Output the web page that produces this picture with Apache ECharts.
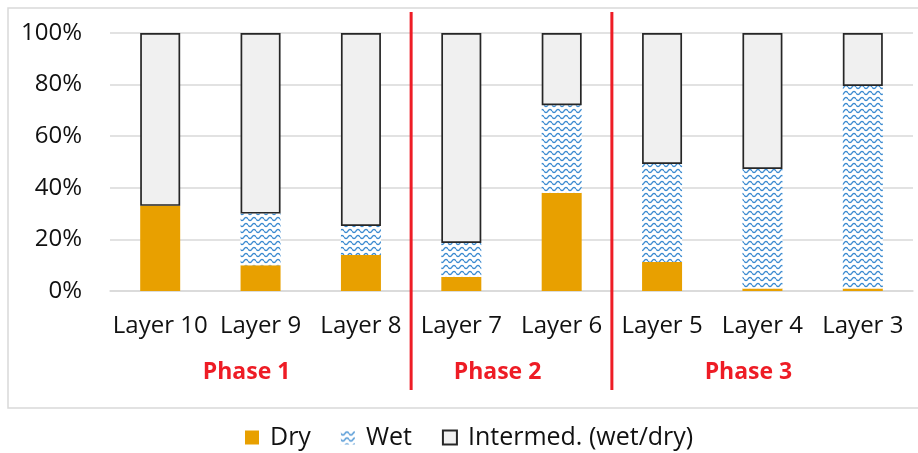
<!DOCTYPE html>
<html><head><meta charset="utf-8">
<script src="https://cdn.jsdelivr.net/npm/echarts@6/dist/echarts.min.js"></script>
<style>html,body{margin:0;padding:0;background:#fff}#c{width:918px;height:453px}</style>
</head><body><div id="c"></div>
<script>
const categories = ['Layer 10','Layer 9','Layer 8','Layer 7','Layer 6','Layer 5','Layer 4','Layer 3'];
const dryValues = [33, 10, 14, 5.4, 38, 11.2, 1, 1];
const wetValues = [0, 20, 11.2, 13.2, 34, 38, 46.3, 78.5];
const intermedValues = [67, 70, 74.8, 81.4, 28, 50.8, 52.7, 20.5];
const seriesNames = ['Dry', 'Wet', 'Intermed. (wet/dry)'];
const phaseNames = ['Phase 1', 'Phase 2', 'Phase 3'];
const phaseFirst = [0, 3, 5];
const phaseLast = [2, 4, 7];

function wavePattern(){
  const c = document.createElement('canvas'); c.width = 8; c.height = 6;
  const g = c.getContext('2d');
  g.fillStyle = '#ffffff'; g.fillRect(0,0,8,6);
  g.strokeStyle = '#3a8ad0'; g.lineWidth = 1.3;
  g.beginPath();
  for (let x = 0; x <= 8; x += 0.5) {
    const y = 3 + 1.6*Math.sin(x/8*2*Math.PI);
    if (x === 0) g.moveTo(x,y); else g.lineTo(x,y);
  }
  g.stroke();
  return c;
}
const FONT = '"Open Sans", sans-serif';
const chart = echarts.init(document.getElementById('c'), null, {renderer:'canvas'});
chart.setOption({
  animation: false,
  backgroundColor: '#ffffff',
  grid: {left: 110, right: 5, top: 33, bottom: 162, containLabel: false},
  xAxis: {
    type: 'category', data: categories,
    axisLine: {show: true, lineStyle: {color: '#d9d9d9', width: 1.5}},
    axisTick: {show: false},
    axisLabel: {color: '#111', fontFamily: FONT, fontSize: 24, margin: 23, interval: 0}
  },
  yAxis: {
    type: 'value', min: 0, max: 100, interval: 20,
    axisLine: {show: false}, axisTick: {show: false},
    splitLine: {lineStyle: {color: '#d9d9d9', width: 1.5}},
    axisLabel: {color: '#111', fontFamily: FONT, fontSize: 24, margin: 28, formatter: '{value}%'}
  },
  legend: {
    bottom: 3, left: 245, padding: 0, itemWidth: 14, itemHeight: 14, itemGap: 30,
    icon: 'rect',
    textStyle: {color: '#111', fontFamily: FONT, fontSize: 25, padding: [0,0,0,6]},
    data: seriesNames
  },
  series: [
    {name: seriesNames[0], type: 'bar', stack: 's', barWidth: 40, data: dryValues,
     itemStyle: {color: '#e8a000'}},
    {name: seriesNames[1], type: 'bar', stack: 's', barWidth: 40, data: wetValues,
     itemStyle: {color: {image: wavePattern(), repeat: 'repeat'}}},
    {name: seriesNames[2], type: 'bar', stack: 's', barWidth: 40, data: intermedValues,
     itemStyle: {color: '#f0f0f0', borderColor: '#262626', borderWidth: 1.7}}
  ]
});

const px = i => chart.convertToPixel({xAxisIndex: 0}, categories[i]);
const graphics = [{
  type: 'rect', shape: {x: 8, y: 8, width: 1000, height: 400},
  style: {fill: 'none', stroke: '#d9d9d9', lineWidth: 1.5}, silent: true, z: -1
}];
for (let p = 1; p < phaseFirst.length; p++) {
  const x = (px(phaseFirst[p]-1) + px(phaseFirst[p])) / 2;
  graphics.push({type: 'line', shape: {x1: x, y1: 12, x2: x, y2: 390},
    style: {stroke: '#ee1c25', lineWidth: 3}, z: 10});
}
for (let p = 0; p < phaseNames.length; p++) {
  const x = (px(phaseFirst[p]) + px(phaseLast[p])) / 2 - 14;
  graphics.push({type: 'text', x: x, y: 372,
    style: {text: phaseNames[p], fill: '#ee1c25', font: 'bold 23px ' + FONT,
      textAlign: 'center', textVerticalAlign: 'middle'}, z: 10});
}
chart.setOption({graphic: graphics});
</script></body></html>
